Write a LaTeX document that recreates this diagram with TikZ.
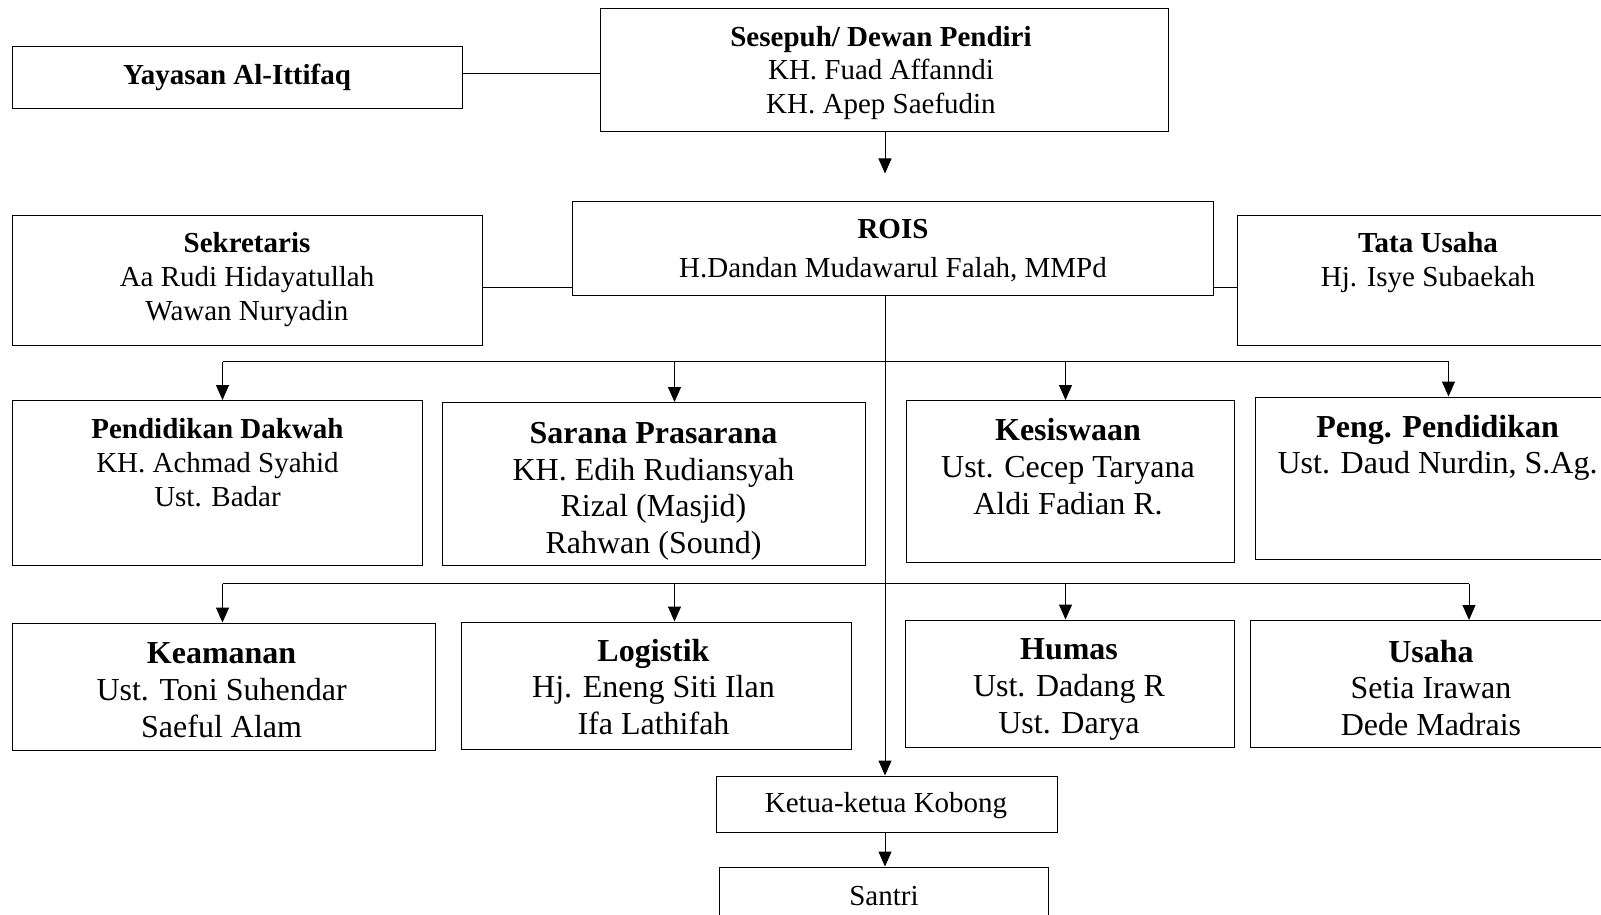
\documentclass[tikz,border=0pt]{standalone}
\usepackage{fontspec}
\setmainfont{Liberation Serif}
\usetikzlibrary{arrows.meta,fit}
\tikzset{
  orgbox/.style={draw=black, line width=1pt, inner sep=0pt},
  conn/.style={draw=black, line width=1pt},
  arr/.style={conn, -{Triangle[length=15pt,width=13pt]}},
  small/.style={font=\fontsize{29}{33.7}\selectfont, align=center, inner sep=0pt},
  big/.style={font=\fontsize{32}{36.6}\selectfont, align=center, inner sep=0pt}
}
\begin{document}
\begin{tikzpicture}[x=1pt,y=-1pt]
\useasboundingbox (0,0) rectangle (1601,915);
% boxes
\node[orgbox, fit={(12,47) (462,109)}] (yay) {};
\node[orgbox, fit={(600,8.5) (1168.5,132)}] (ses) {};
\node[orgbox, fit={(572.5,201) (1213.5,295)}] (rois) {};
\node[orgbox, fit={(12,215) (482.5,345)}] (sek) {};
\node[orgbox, fit={(1237,215) (1615,345)}] (tata) {};
\node[orgbox, fit={(12,400.5) (422,565)}] (pd) {};
\node[orgbox, fit={(442,402.5) (865,565)}] (sp) {};
\node[orgbox, fit={(906.5,400.5) (1234,562)}] (kes) {};
\node[orgbox, fit={(1255.5,397) (1615,559)}] (peng) {};
\node[orgbox, fit={(12,623) (435,750.5)}] (kea) {};
\node[orgbox, fit={(461.5,622) (851,749)}] (log) {};
\node[orgbox, fit={(905.5,620) (1234,747)}] (hum) {};
\node[orgbox, fit={(1250.5,620.5) (1615,747.5)}] (usa) {};
\node[orgbox, fit={(716.5,776) (1057,832.5)}] (ket) {};
\node[orgbox, fit={(719.5,867) (1048.5,930)}] (san) {};
% texts
\node[small] (tyay) at (237,77) {\textbf{Yayasan Al-Ittifaq}};
\node[small] (tses) at (881,73) {\textbf{Sesepuh/ Dewan Pendiri}\\KH. Fuad Affanndi\\KH. Apep Saefudin};
\node[small] (trois) at (893,250.5) {\textbf{ROIS}\\[5pt]H.Dandan Mudawarul Falah, MMPd};
\node[small] (tsek) at (247,279.5) {\textbf{Sekretaris}\\Aa Rudi Hidayatullah\\Wawan Nuryadin};
\node[small] (ttata) at (1428,262.5) {\textbf{Tata Usaha}\\Hj. Isye Subaekah};
\node[small] (tpd) at (217.5,462.5) {\textbf{Pendidikan Dakwah}\\KH. Achmad Syahid\\Ust. Badar};
\node[big] (tsp) at (653.5,491.5) {\textbf{Sarana Prasarana}\\KH. Edih Rudiansyah\\Rizal (Masjid)\\Rahwan (Sound)};
\node[big] (tkes) at (1068,466.6) {\textbf{Kesiswaan}\\Ust. Cecep Taryana\\Aldi Fadian R.};
\node[big] (tpeng) at (1437.6,448) {\textbf{Peng. Pendidikan}\\Ust. Daud Nurdin, S.Ag.};
\node[big] (tkea) at (221.6,690.2) {\textbf{Keamanan}\\Ust. Toni Suhendar\\Saeful Alam};
\node[big] (tlog) at (653.5,687) {\textbf{Logistik}\\Hj. Eneng Siti Ilan\\Ifa Lathifah};
\node[big] (thum) at (1069,689.5) {\textbf{Humas}\\Ust. Dadang R\\Ust. Darya};
\node[big] (tusa) at (1431,687.7) {\textbf{Usaha}\\Setia Irawan\\Dede Madrais};
\node[small] (tket) at (886,805.5) {Ketua-ketua Kobong};
\node[small] (tsan) at (884,896) {Santri};
% coordinates
\coordinate (sesend) at (885,173.5);
\coordinate (b1l) at (222.5,361.5);
\coordinate (b1r) at (1448.5,361.5);
\coordinate (b2l) at (222.5,583.5);
\coordinate (b2r) at (1469,583.5);
\coordinate (b1sp) at (674.5,361.5);
\coordinate (b1kes) at (1065.5,361.5);
\coordinate (b2log) at (674.5,583.5);
\coordinate (b2hum) at (1065.5,583.5);
% connectors
\draw[conn] (yay.east |- 0,74) -- (ses.west |- 0,74);
\draw[arr] (ses.south -| sesend) -- (sesend);
\draw[conn] (sek.east |- 0,287) -- (rois.west |- 0,287);
\draw[conn] (rois.east |- 0,287) -- (tata.west |- 0,287);
\draw[arr] (rois.south -| sesend) -- (ket.north -| sesend);
\draw[conn] (b1l) -- (b1r);
\draw[conn] (b2l) -- (b2r);
\draw[arr] (b1l) -- (pd.north -| b1l);
\draw[arr] (b1sp) -- (sp.north -| b1sp);
\draw[arr] (b1kes) -- (kes.north -| b1kes);
\draw[arr] (b1r) -- (peng.north -| b1r);
\draw[arr] (b2l) -- (kea.north -| b2l);
\draw[arr] (b2log) -- (log.north -| b2log);
\draw[arr] (b2hum) -- (hum.north -| b2hum);
\draw[arr] (b2r) -- (usa.north -| b2r);
\draw[arr] (ket.south -| sesend) -- (san.north -| sesend);
\end{tikzpicture}
\end{document}
